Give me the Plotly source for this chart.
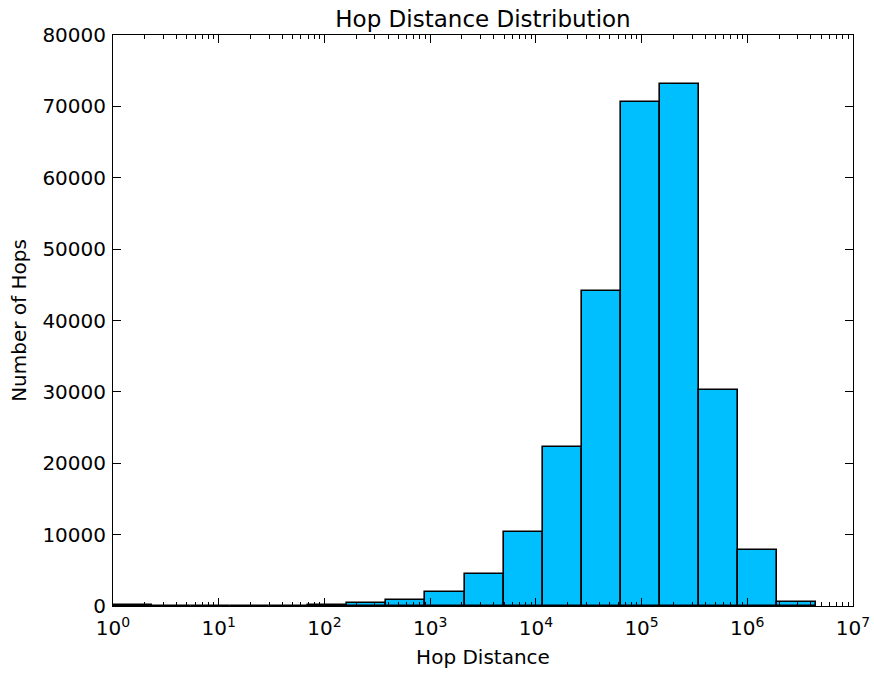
import numpy as np
import plotly.graph_objects as go

# Histogram data (log10 bins starting at 10^0)
bin_width_decades = 0.3695
counts = [120, 0, 0, 0, 0, 150, 400, 840, 1950, 4500, 10350, 22250,
          44150, 70650, 73100, 30250, 7850, 500]
x_tick_exponents = [0, 1, 2, 3, 4, 5, 6, 7]
y_ticks = [0, 10000, 20000, 30000, 40000, 50000, 60000, 70000, 80000]

centers = [(i + 0.5) * bin_width_decades for i in range(len(counts))]
minor_vals = [n + np.log10(k) for n in range(7) for k in range(2, 10)]

FONT = "DejaVu Sans"

fig = go.Figure(go.Bar(
    x=centers, y=counts, width=bin_width_decades,
    marker=dict(color="#00BFFF", line=dict(color="black", width=1.6)),
))

fig.update_layout(
    width=874, height=673,
    margin=dict(l=113, r=21, t=35, b=67),
    paper_bgcolor="white", plot_bgcolor="white",
    showlegend=False,
    font=dict(family=FONT, size=20, color="black"),
    title=dict(text="Hop Distance Distribution", x=(113 + 853) / 2 / 874, xref="container",
               xanchor="center", y=1 - 19 / 673, yref="container", yanchor="middle",
               font=dict(family=FONT, size=23, color="black")),
    bargap=0,
)
fig.update_xaxes(
    range=[0, 7], tickmode="array", tickvals=x_tick_exponents,
    ticktext=[f"10<sup>{e}</sup>" for e in x_tick_exponents],
    ticks="inside", ticklen=8, tickwidth=1, tickcolor="black",
    showline=True, linecolor="black", linewidth=1, mirror="ticks",
    showgrid=False, zeroline=False, automargin=False,
    ticklabelstandoff=4,
    minor=dict(tickvals=minor_vals, ticks="inside", ticklen=4, tickcolor="black", tickwidth=1),
    title=dict(text="Hop Distance", font=dict(family=FONT, size=20), standoff=10),
    tickfont=dict(family=FONT, size=20),
)
fig.update_yaxes(
    range=[0, 80000], tickmode="array", tickvals=y_ticks,
    ticktext=[str(v) for v in y_ticks],
    ticks="inside", ticklen=8, tickwidth=1, tickcolor="black",
    showline=True, linecolor="black", linewidth=1, mirror="ticks",
    showgrid=False, zeroline=False, automargin=False,
    ticklabelstandoff=2,
    title=dict(text="Number of Hops", font=dict(family=FONT, size=20), standoff=10),
    tickfont=dict(family=FONT, size=20),
)

fig.write_html("out.html")
